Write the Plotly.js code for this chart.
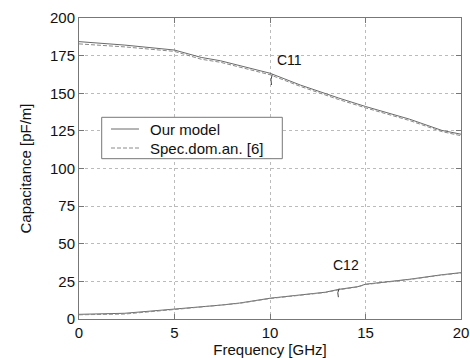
<!DOCTYPE html>
<html>
<head>
<meta charset="utf-8">
<script src="https://cdn.plot.ly/plotly-3.0.1.min.js"></script>
<style>html,body{margin:0;padding:0;background:#fff;}#chart{width:470px;height:358px;}</style>
</head>
<body>
<div id="chart"></div>
<script>
// Frequency samples [GHz]
const freq = [0, 2.4, 5, 6.4, 7.4, 8.4, 10, 11.6, 12.9, 13.6, 14.6, 15, 17.3, 19, 20];
// C11 — our model / spectral-domain analysis [pF/m]
const c11Model = [184.3, 182.0, 178.7, 173.8, 171.6, 168.6, 163.3, 155.4, 149.6, 146.8, 142.8, 141.2, 132.8, 125.3, 122.8];
const c11Spec  = [182.8, 180.8, 177.8, 172.6, 170.6, 167.6, 162.3, 154.5, 148.7, 145.8, 141.9, 140.3, 131.9, 124.5, 121.8];
// C12 — our model / spectral-domain analysis [pF/m]
const c12Model = [3.1, 3.8, 6.6, 8.0, 9.2, 10.6, 13.8, 16.0, 17.8, 19.7, 21.5, 23.1, 26.4, 29.4, 30.8];
const c12Spec  = [2.8, 3.3, 6.3, 7.8, 9.0, 10.4, 13.6, 15.8, 17.6, 19.4, 21.3, 22.9, 26.2, 29.2, 30.6];

const seriesNames = ["Our model", "Spec.dom.an. [6]"];
const curveLabels = ["C11", "C12"];
const xTicks = [0, 5, 10, 15, 20];
const yTicks = [0, 25, 50, 75, 100, 125, 150, 175, 200];

const modelCol = "#6a6a6a";
const specCol = "#8a8a8a";
const specDash = "4px,2px";
const font = "Liberation Sans, Arial, Helvetica, sans-serif";

const traces = [
  {x: freq, y: c11Model, mode: "lines", name: seriesNames[0], line: {color: modelCol, width: 1}},
  {x: freq, y: c11Spec,  mode: "lines", name: seriesNames[1], line: {color: specCol, width: 1, dash: specDash}},
  {x: freq, y: c12Model, mode: "lines", name: seriesNames[0], line: {color: modelCol, width: 1}},
  {x: freq, y: c12Spec,  mode: "lines", name: seriesNames[1], line: {color: specCol, width: 1, dash: specDash}}
];

const axisCommon = {
  showline: true, linecolor: "#777", linewidth: 1, mirror: "ticks",
  ticks: "inside", ticklen: 5, tickcolor: "#777",
  showgrid: true, gridcolor: "#bbb", griddash: "dot", gridwidth: 1,
  zeroline: false, tickfont: {family: font, size: 15, color: "#111"}
};

// legend box (paper coordinates)
const lg = {x0: 0.0594, x1: 0.5322, y0: 0.5326, y1: 0.6701,
            lx0: 0.0838, lx1: 0.157, tx: 0.1806, rows: [0.6312, 0.5681]};

const layout = {
  width: 470, height: 358,
  margin: {l: 79, r: 9, t: 18, b: 39},
  paper_bgcolor: "#fff", plot_bgcolor: "#fff",
  font: {family: font, size: 15, color: "#111"},
  showlegend: false,
  xaxis: Object.assign({}, axisCommon, {
    range: [0, 20], tickvals: xTicks, ticktext: xTicks.map(String),
    title: {text: "Frequency [GHz]", font: {family: font, size: 15, color: "#111"}, standoff: 2}
  }),
  yaxis: Object.assign({}, axisCommon, {
    range: [0, 200], tickvals: yTicks, ticktext: yTicks.map(String),
    title: {text: "Capacitance [pF/m]", font: {family: font, size: 15, color: "#111"}, standoff: 14}
  }),
  annotations: [
    {x: 11.0, y: 172.4, xref: "x", yref: "y", text: curveLabels[0], showarrow: false,
     font: {family: font, size: 14, color: "#111"}, yanchor: "middle"},
    {x: 14.0, y: 35.9, xref: "x", yref: "y", text: curveLabels[1], showarrow: false,
     font: {family: font, size: 14, color: "#111"}, yanchor: "middle"},
    {x: lg.tx, y: lg.rows[0], xref: "paper", yref: "paper", text: seriesNames[0], showarrow: false,
     xanchor: "left", yanchor: "middle", font: {family: font, size: 15, color: "#111"}},
    {x: lg.tx, y: lg.rows[1], xref: "paper", yref: "paper", text: seriesNames[1], showarrow: false,
     xanchor: "left", yanchor: "middle", font: {family: font, size: 15, color: "#111"}}
  ],
  shapes: [
    {type: "path", xref: "x", yref: "y", path: "M 10.12 162.5 Q 10.0 159 10.08 155.5",
     line: {color: "#444", width: 1}},
    {type: "path", xref: "x", yref: "y", path: "M 13.62 20.2 Q 13.5 17.5 13.58 14.5",
     line: {color: "#444", width: 1}},
    {type: "rect", xref: "paper", yref: "paper", x0: lg.x0, x1: lg.x1, y0: lg.y0, y1: lg.y1,
     fillcolor: "#fff", line: {color: "#777", width: 1}},
    {type: "line", xref: "paper", yref: "paper", x0: lg.lx0, x1: lg.lx1, y0: lg.rows[0], y1: lg.rows[0],
     line: {color: modelCol, width: 1}},
    {type: "line", xref: "paper", yref: "paper", x0: lg.lx0, x1: lg.lx1, y0: lg.rows[1], y1: lg.rows[1],
     line: {color: specCol, width: 1, dash: specDash}}
  ]
};

Plotly.newPlot("chart", traces, layout, {displayModeBar: false, staticPlot: true});
</script>
</body>
</html>
